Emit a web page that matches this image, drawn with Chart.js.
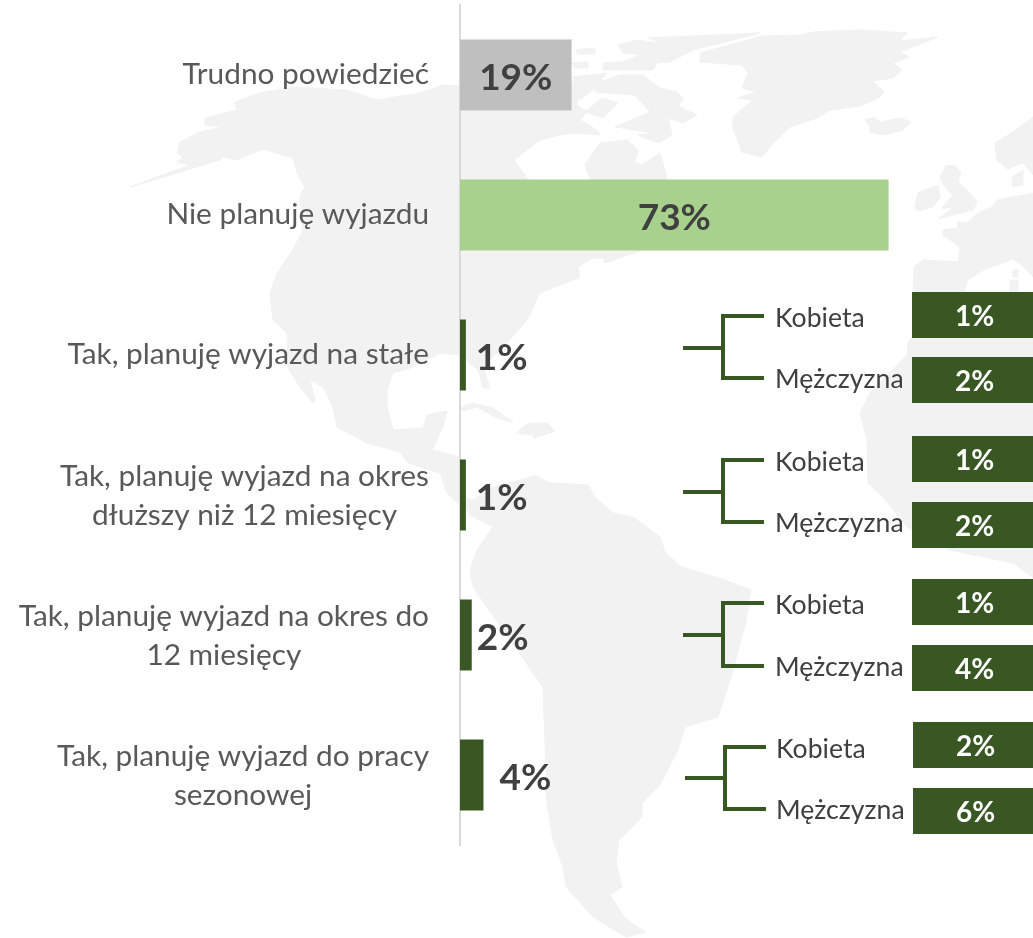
<!DOCTYPE html>
<html lang="pl">
<head>
<meta charset="utf-8">
<title>Plany wyjazdu</title>
<script src="https://cdn.jsdelivr.net/npm/chart.js@4"></script>
<style>
  html, body { margin: 0; padding: 0; background: #fff; }
  #wrap { position: relative; width: 1033px; height: 938px; overflow: hidden; }
  #map, #chart { position: absolute; left: 0; top: 0; }
  #map polygon { fill: #f2f2f2; stroke: #f2f2f2; stroke-width: 1; stroke-linejoin: round; }
</style>
</head>
<body>
<div id="wrap">
  <!-- background world map, decoration only -->
  <svg id="map" width="1033" height="938" viewBox="0 0 1033 938">
    <!-- North + Central America -->
    <polygon points="130,187 190,165 177,162 183,157 177,153 180,142 200,132 223,127 205,125 205,118 237,110 235,102 260,93 293,87 347,90 377,100 420,93 443,85 460,86 500,95 571,80 580,90 577,105 587,112 580,120 597,130 600,135 575,133 560,135 540,140 514,160 527,178 540,200 560,215 585,215 590,178 585,165 600,143 627,140 638,150 635,162 642,165 660,153 667,177 668,190 640,251 605,263 603,258 593,258 578,267 580,277 560,285 540,293 527,320 505,345 490,360 484,368 490,388 483,388 478,370 460,355 440,353 410,368 393,373 387,390 387,407 393,430 423,428 427,415 447,411 443,427 432,450 460,457 462,503 458,503 447,493 440,473 408,463 400,452 367,443 337,427 333,407 323,387 310,380 315,400 313,403 302,390 288,368 287,333 273,320 270,293 277,273 293,250 303,230 300,197 305,187 297,173 293,158 263,149 237,160 223,157 220,160"/>
    <!-- South America -->
    <polygon points="458,495 473,500 493,487 527,478 535,475 550,483 588,485 595,497 613,513 633,517 660,537 665,552 680,566 692,570 725,580 751,590 745,625 731,677 718,717 685,727 678,750 660,785 642,803 642,817 619,840 616,863 622,887 610,895 625,918 645,932 626,937 593,917 566,887 563,867 553,840 547,803 543,687 510,640 473,587 470,570 477,550 493,527 470,515"/>
    <!-- Greenland -->
    <polygon points="700,62 700,53 737,43 762,36 800,35 813,32 860,30 907,33 900,41 938,37 900,52 909,57 893,63 902,70 893,78 872,81 884,92 880,97 860,106 830,110 817,118 790,127 773,143 762,157 742,152 733,128 733,117 753,100 738,98 757,92 742,88 748,73 742,65"/>
    <!-- Arctic islands -->
    <polygon points="618,45 637,40 663,44 648,38 760,33 733,40 693,50 670,62 657,63 653,70 603,70 603,63 623,62 640,55 623,53"/>
    <polygon points="643,75 660,88 677,92 683,98 678,106 697,115 683,123 668,118 672,135 658,143 638,135 655,133 615,127 650,112 635,95 595,92 597,83 620,75"/>
    <polygon points="602,98 618,103 603,118 585,112"/>
    <polygon points="573,77 607,73 593,90 580,100"/>
    <polygon points="575,50 595,48 595,54 578,54"/>
    <polygon points="572,63 588,62 588,68 575,68"/>
    <!-- Iceland -->
    <polygon points="865,120 873,117 880,122 900,118 911,122 903,130 883,135 870,132 870,127"/>
    <!-- Caribbean -->
    <polygon points="460,408 473,403 493,408 513,422 497,418 477,407 463,411"/>
    <polygon points="517,433 523,427 530,423 547,423 555,431 537,437 535,439 532,435"/>
    <!-- Europe -->
    <polygon points="918,193 938,185 940,197 933,207 918,211 915,207"/>
    <polygon points="946,165 955,166 961,172 958,182 967,190 977,202 973,210 953,215 938,219 953,208 942,208 953,195 947,190 940,178"/>
    <polygon points="1033,117 1013,132 995,143 997,160 1007,169 1023,163 1033,175"/>
    <polygon points="1012,177 1023,170 1023,185 1013,187"/>
    <polygon points="1033,193 1013,197 997,200 992,207 978,213 967,223 958,222 957,228 943,230 943,235 960,247 958,262 923,260 914,267 913,295 963,295 968,280 983,270 1013,259 1022,265 1033,277"/>
    <polygon points="1013,270 1018,270 1018,277 1013,277"/>
    <polygon points="1010,280 1018,280 1018,295 1010,295"/>
    <!-- Africa -->
    <polygon points="912,337 930,300 1033,300 1033,578 1013,563 950,550 907,527 883,497 868,483 867,440 860,413 870,393 907,355 908,343"/>
  </svg>
  <canvas id="chart" width="1033" height="938"></canvas>
</div>
<script>
'use strict';

// ── DATA ─────────────────────────────────────────────────────────────────────
const categories = [
  ['Trudno powiedzieć'],
  ['Nie planuję wyjazdu'],
  ['Tak, planuję wyjazd na stałe'],
  ['Tak, planuję wyjazd na okres', 'dłuższy niż 12 miesięcy'],
  ['Tak, planuję wyjazd na okres do', '12 miesięcy'],
  ['Tak, planuję wyjazd do pracy', 'sezonowej'],
];
const totalValues = [19, 73, 1, 1, 2, 4];
const genderNames = ['Kobieta', 'Mężczyzna'];
const womenValues = [1, 1, 1, 2];
const menValues   = [2, 2, 4, 6];

// ── THEME ────────────────────────────────────────────────────────────────────
const GREY = '#bfbfbf', LIGHT = '#a9d18e', DARK = '#385723';
const barColors = [GREY, LIGHT, DARK, DARK, DARK, DARK];
const FONT = 'Lato, Carlito, sans-serif';

// hand placed in the original slide, so every group is a bit different
// (all y values relative to the row centre)
const valueGapRight = [0, 0, 10, 10, 5, 16];
const GROUPS = [
  { dx: 0, boxes: [-63, 2],  top: -39, mid: -7, bottom: 23 },
  { dx: 0, boxes: [-59, 7],  top: -35, mid: -3, bottom: 27 },
  { dx: 0, boxes: [-56, 10], top: -32, mid: 0,  bottom: 31 },
  { dx: 2, boxes: [-53, 13], top: -28, mid: 3,  bottom: 34 },
];

// ── LABEL PLUGIN ─────────────────────────────────────────────────────────────
const rowLabels = {
  id: 'rowLabels',
  afterDraw(chart) {
    const ctx = chart.ctx;
    const yScale = chart.scales.y;
    const bars = chart.getDatasetMeta(0).data;

    ctx.save();
    ctx.textBaseline = 'middle';

    // category text: block right edge at x=429, lines centred inside the block
    ctx.font = '29.8px ' + FONT;
    ctx.fillStyle = '#595959';
    ctx.textAlign = 'center';
    categories.forEach((lines, i) => {
      const width = Math.max(...lines.map(l => ctx.measureText(l).width));
      const cy = yScale.getPixelForValue(i) + (lines.length > 1 ? 1 : -1);
      lines.forEach((line, n) => {
        ctx.fillText(line, 429 - width / 2, cy + (n - (lines.length - 1) / 2) * 39);
      });
    });

    // total values
    ctx.font = 'bold 37px ' + FONT;
    ctx.fillStyle = '#404040';
    totalValues.forEach((v, i) => {
      const bar = bars[i];
      if (valueGapRight[i]) {
        ctx.textAlign = 'left';
        ctx.fillText(v + '%', bar.x + valueGapRight[i], bar.y + 3);
      } else {
        ctx.textAlign = 'center';
        ctx.fillText(v + '%', (bar.x + bar.base) / 2, bar.y + 3);
      }
    });

    // gender breakdown
    GROUPS.forEach((g, i) => {
      const cy = yScale.getPixelForValue(i + 2);
      const x0 = 683 + g.dx, x1 = 723 + g.dx, x2 = 764 + g.dx;

      ctx.strokeStyle = DARK;
      ctx.lineWidth = 4;
      ctx.beginPath();
      ctx.moveTo(x0, cy + g.mid);
      ctx.lineTo(x1, cy + g.mid);
      ctx.moveTo(x2, cy + g.top);
      ctx.lineTo(x1, cy + g.top);
      ctx.lineTo(x1, cy + g.bottom);
      ctx.lineTo(x2, cy + g.bottom);
      ctx.stroke();

      [womenValues[i], menValues[i]].forEach((v, k) => {
        const textY = cy + (k === 0 ? g.top + 2 : g.bottom + 1);
        const boxX = 912 + g.dx / 2;
        const boxY = cy + g.boxes[k];

        ctx.textAlign = 'left';
        ctx.fillStyle = '#404040';
        ctx.font = '26.6px ' + FONT;
        ctx.fillText(genderNames[k], 775 + g.dx / 2, textY);

        ctx.fillStyle = DARK;
        ctx.fillRect(boxX, boxY, 1033 - boxX, 46);
        ctx.fillStyle = '#fff';
        ctx.font = 'bold 28px ' + FONT;
        ctx.textAlign = 'center';
        ctx.fillText(v + '%', 974.5 + g.dx / 2, boxY + 25);
      });
    });
    ctx.restore();
  },
};

// ── CHART ────────────────────────────────────────────────────────────────────
new Chart(document.getElementById('chart'), {
  type: 'bar',
  data: {
    labels: categories,
    datasets: [{
      data: totalValues,
      backgroundColor: barColors,
      borderWidth: 0,
      barPercentage: 0.507,
      categoryPercentage: 1,
    }],
  },
  options: {
    indexAxis: 'y',
    responsive: false,
    animation: false,
    layout: { padding: { left: 460, top: 5, bottom: 93, right: 0 } },
    plugins: { legend: { display: false }, tooltip: { enabled: false } },
    scales: {
      x: { display: false, min: 0, max: 97.6 },
      y: {
        grid: { display: false },
        border: { color: '#d9d9d9', width: 2 },
        ticks: { display: false },
        afterFit(scale) { scale.width = 0; },
      },
    },
  },
  plugins: [rowLabels],
});
</script>
</body>
</html>
